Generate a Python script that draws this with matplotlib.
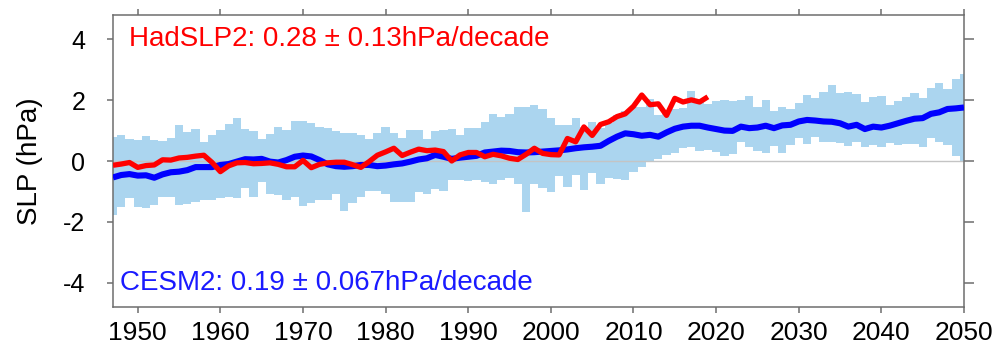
import numpy as np
import matplotlib
matplotlib.use("Agg")
import matplotlib.pyplot as plt

plt.rcParams['font.family'] = ['Liberation Sans', 'DejaVu Sans']

# CESM2 ensemble spread (min / max) and ensemble mean, 1947-2050
years = np.arange(1947, 2051)
cesm_upper = [0.80, 0.87, 0.73, 0.68, 0.83, 0.69, 0.65, 0.77, 1.18, 0.96,
              1.05, 0.64, 0.85, 1.01, 1.23, 1.43, 1.05, 0.98, 0.71, 0.89,
              1.13, 1.02, 1.30, 1.32, 1.24, 1.13, 1.10, 0.97, 0.91, 0.91,
              0.86, 0.73, 0.91, 1.13, 0.91, 0.74, 1.02, 1.02, 0.73, 0.97,
              1.02, 1.06, 0.86, 1.10, 1.08, 1.27, 1.55, 1.46, 1.54, 1.76,
              1.76, 1.83, 1.70, 1.42, 1.20, 1.17, 1.40, 1.13, 1.28, 1.10,
              1.25, 1.52, 1.63, 1.78, 1.76, 2.04, 1.50, 1.58, 1.70, 1.74,
              2.31, 1.95, 1.87, 1.96, 1.99, 1.98, 1.99, 2.15, 1.77, 1.99,
              1.66, 1.76, 1.71, 1.90, 2.16, 2.07, 2.26, 2.49, 2.22, 2.26,
              2.20, 1.93, 2.11, 2.13, 1.83, 1.96, 2.09, 2.23, 2.07, 2.40,
              2.56, 2.38, 2.71, 2.87]
cesm_lower = [-1.78, -1.50, -1.23, -1.50, -1.56, -1.45, -1.18, -1.18, -1.45, -1.40,
              -1.34, -1.29, -1.29, -1.23, -1.18, -1.23, -0.90, -1.18, -0.70, -1.07,
              -1.12, -1.29, -1.18, -1.49, -1.38, -1.29, -1.29, -1.10, -1.65, -1.38,
              -1.18, -0.99, -0.99, -1.10, -1.34, -1.34, -1.34, -1.01, -1.09, -0.92,
              -0.99, -0.63, -0.63, -0.66, -0.63, -0.68, -0.74, -0.63, -0.57, -0.74,
              -1.67, -0.74, -0.88, -1.03, -0.48, -0.85, -0.46, -0.96, -0.41, -0.74,
              -0.57, -0.60, -0.63, -0.37, -0.19, -0.02, 0.05, 0.20, 0.25, 0.44,
              0.47, 0.33, 0.36, 0.31, 0.18, 0.22, 0.64, 0.47, 0.33, 0.25,
              0.50, 0.25, 0.51, 0.75, 0.56, 0.80, 0.62, 0.62, 0.58, 0.50,
              0.62, 0.47, 0.53, 0.45, 0.58, 0.51, 0.56, 0.56, 0.47, 0.77,
              0.62, 0.51, 0.18, 0.01]
cesm_mean = [-0.54, -0.46, -0.43, -0.48, -0.47, -0.55, -0.44, -0.37, -0.35, -0.30,
             -0.20, -0.20, -0.20, -0.13, -0.10, -0.02, 0.06, 0.05, 0.07, -0.02,
             -0.05, 0.03, 0.14, 0.18, 0.15, 0.03, -0.11, -0.17, -0.19, -0.17,
             -0.13, -0.13, -0.17, -0.15, -0.11, -0.08, -0.02, 0.05, 0.09, 0.20,
             0.14, 0.07, 0.11, 0.14, 0.17, 0.28, 0.31, 0.34, 0.33, 0.29,
             0.28, 0.29, 0.31, 0.33, 0.35, 0.38, 0.42, 0.45, 0.47, 0.50,
             0.66, 0.80, 0.91, 0.88, 0.83, 0.86, 0.80, 0.94, 1.06, 1.13,
             1.16, 1.16, 1.10, 1.05, 1.00, 0.99, 1.13, 1.08, 1.10, 1.16,
             1.08, 1.17, 1.19, 1.30, 1.35, 1.33, 1.30, 1.29, 1.24, 1.13,
             1.19, 1.05, 1.13, 1.10, 1.16, 1.24, 1.32, 1.39, 1.41, 1.55,
             1.60, 1.71, 1.73, 1.76]

# HadSLP2 observations, 1947-2019
had_years = np.arange(1947, 2020)
had_slp = [-0.14, -0.10, -0.05, -0.21, -0.15, -0.13, 0.04, 0.03, 0.10, 0.12,
           0.16, 0.19, -0.05, -0.35, -0.16, -0.06, -0.05, -0.09, -0.08, -0.06,
           -0.11, -0.19, -0.19, 0.02, -0.22, -0.11, -0.06, -0.04, -0.04, -0.12,
           -0.21, -0.02, 0.19, 0.30, 0.42, 0.18, 0.29, 0.39, 0.34, 0.36,
           0.31, 0.00, 0.20, 0.28, 0.28, 0.14, 0.22, 0.17, 0.09, 0.05,
           0.22, 0.42, 0.25, 0.21, 0.20, 0.74, 0.63, 1.12, 0.84, 1.20,
           1.29, 1.46, 1.55, 1.80, 2.17, 1.85, 1.88, 1.50, 2.06, 1.94,
           2.01, 1.94, 2.11]

fig = plt.figure(figsize=(9.97, 3.52), dpi=100)
ax = fig.add_axes([0.1133, 0.1278, 0.8536, 0.8296])

ax.fill_between(years, cesm_lower, cesm_upper, step='mid', color='#abd5ef', linewidth=0, zorder=1)
ax.axhline(0, color='#c4c4c4', linewidth=1.0, zorder=2)
ax.plot(years, cesm_mean, color='#0000ff', linewidth=4.4, zorder=3, solid_capstyle='butt')
ax.plot(had_years, had_slp, color='#ff0000', linewidth=3.8, zorder=4, solid_capstyle='butt')

ax.text(1948.9, 4.0, 'HadSLP2: 0.28 \u00b1 0.13hPa/decade', color='#ff0000', fontsize=20, va='center', ha='left')
ax.text(1947.8, -4.0, 'CESM2: 0.19 \u00b1 0.067hPa/decade', color='#1a1aff', fontsize=20, va='center', ha='left')

ax.set_xlim(1947, 2050)
ax.set_ylim(-4.8, 4.8)
ax.set_xticks(np.arange(1950, 2051, 10))
ax.set_yticks([-4, -2, 0, 2, 4])
ax.set_yticklabels(['-4', '-2', '0', '2', '4'])
ax.set_ylabel('SLP (hPa)', fontsize=20)
ax.yaxis.set_label_coords(-0.082, 0.5)

for s in ax.spines.values():
    s.set_color('#6e6e6e')
    s.set_linewidth(1.1)
ax.tick_params(axis='both', direction='out', colors='#6e6e6e', labelcolor='black', width=1.1, length=4, top=True, right=True)
ax.tick_params(axis='x', labelsize=19, pad=6)
ax.tick_params(axis='y', labelsize=18, pad=16)
ax.tick_params(axis='y', which='major', right=True)
ax.yaxis.set_tick_params(which='major', length=4)
for t in ax.yaxis.get_major_ticks():
    t.tick2line.set_markersize(7)

fig.savefig('out.png', dpi=100)
